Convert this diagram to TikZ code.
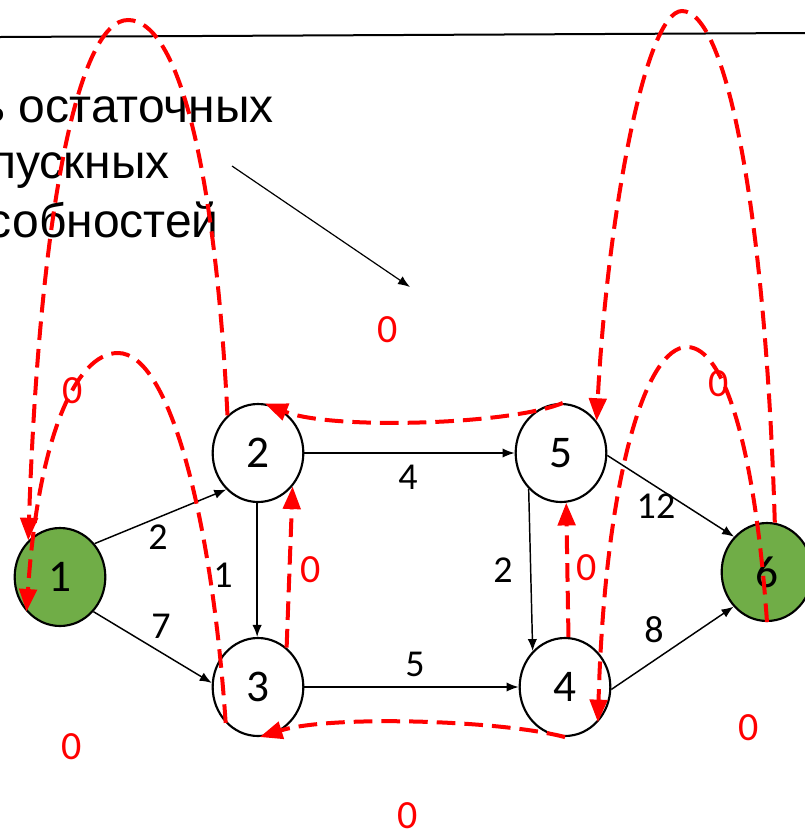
\documentclass[tikz,border=0pt]{standalone}
\usepackage{fontspec}
\setmainfont{Carlito}
\newfontfamily\headsans{Liberation Sans}
\usetikzlibrary{arrows.meta,shapes.geometric}
\definecolor{vgreen}{HTML}{70AD47}
\begin{document}
\begin{tikzpicture}[x=0.75pt,y=-0.75pt,
  vertex/.style={ellipse,draw=black,line width=1.6pt,minimum width=68pt,
    minimum height=73.5pt,inner sep=0pt,font=\fontsize{34}{34}\selectfont},
  terminal/.style={vertex,fill=vgreen},
  arc/.style={line width=1.1pt,-{Latex[length=9pt,width=7pt]}},
  wlabel/.style={inner sep=0pt,font=\fontsize{28.5}{28.5}\selectfont},
  rlabel/.style={inner sep=0pt,text=red,font=\fontsize{30}{30}\selectfont},
  residual/.style={red,line width=3pt,dash pattern=on 14pt off 6.75pt,
    -{Triangle[length=17pt,width=13pt]}},
  headline/.style={anchor=base east,inner sep=0pt,
    font=\headsans\fontsize{36}{36}\selectfont},
]
\useasboundingbox (0,0) rectangle (805,833);

% rule across the top
\coordinate (rule-l) at (0,37);
\coordinate (rule-r) at (805,33);
\draw[line width=1.5pt] (rule-l) -- (rule-r);

% heading and its pointer
\node[headline] (h1) at (274,122) {ь остаточных};
\node[headline] (h2) at (170,178) {пускных};
\node[headline] (h3) at (219,237) {собностей};
\coordinate (ptr-s) at (232,166);
\coordinate (ptr-e) at (410,287);
\draw[arc,line width=0.9pt] (ptr-s) -- (ptr-e);

% vertices
\node[terminal] (n1) at (60,577) {1};
\node[vertex]   (n2) at (258,453) {2};
\node[vertex]   (n3) at (258,687) {3};
\node[vertex]   (n5) at (561,453) {5};
\node[vertex]   (n4) at (565,687) {4};
\node[terminal] (n6) at (767,572) {6};

% network arcs
\draw[arc] (n1.44)  -- (n2.229);
\draw[arc] (n1.314) -- (n3.175);
\draw[arc] (n2.east) -- (n5.west);
\draw[arc] (n2.269) -- (n3.91);
\draw[arc] (n3.east) -- (n4.west);
\draw[arc] (n5.228) -- (n4.132);
\draw[arc] (n5.-3)  -- (n6.133);
\draw[arc] (n4.-3)  -- (n6.226);

% capacities
\node[wlabel] (w12) at (158,537) {2};
\node[wlabel] (w13) at (161,626) {7};
\node[wlabel] (w23) at (223,575) {1};
\node[wlabel] (w25) at (408,477) {4};
\node[wlabel] (w34) at (415,664) {5};
\node[wlabel] (w54) at (503,570) {2};
\node[wlabel] (w56) at (656,506) {12};
\node[wlabel] (w46) at (654,630) {8};

% residual capacities
\node[rlabel] (r1) at (388,330) {0};
\node[rlabel] (r2) at (73,391) {0};
\node[rlabel] (r3) at (719,384) {0};
\node[rlabel] (r4) at (311,570) {0};
\node[rlabel] (r5) at (587,568) {0};
\node[rlabel] (r6) at (72,747) {0};
\node[rlabel] (r7) at (749,728) {0};
\node[rlabel] (r8) at (408,816) {0};

% reverse arcs
\draw[residual] (n2.129) .. controls (214,150) and (175,20) .. (128,20)
  .. controls (80,20) and (40,200) .. (n1.131);
\draw[residual] (n3.228) .. controls (212,520) and (170,353) .. (118,353)
  .. controls (75,353) and (38,440) .. (n1.226);
\draw[residual] (n3.54) -- (n2.-44);
\draw[residual] (n4.86) -- (n5.-84);
\draw[residual] (n5.88) .. controls (510,425) and (330,430) .. (n2.82);
\draw[residual] (n4.south) .. controls (500,720) and (330,715) .. (n3.272);
\draw[residual] (n6.81) .. controls (765,200) and (725,11) .. (682,11)
  .. controls (645,11) and (607,220) .. (n5.42);
\draw[residual] (n6.south) .. controls (755,450) and (725,347) .. (687,347)
  .. controls (645,347) and (605,480) .. (n4.313);
\end{tikzpicture}
\end{document}
